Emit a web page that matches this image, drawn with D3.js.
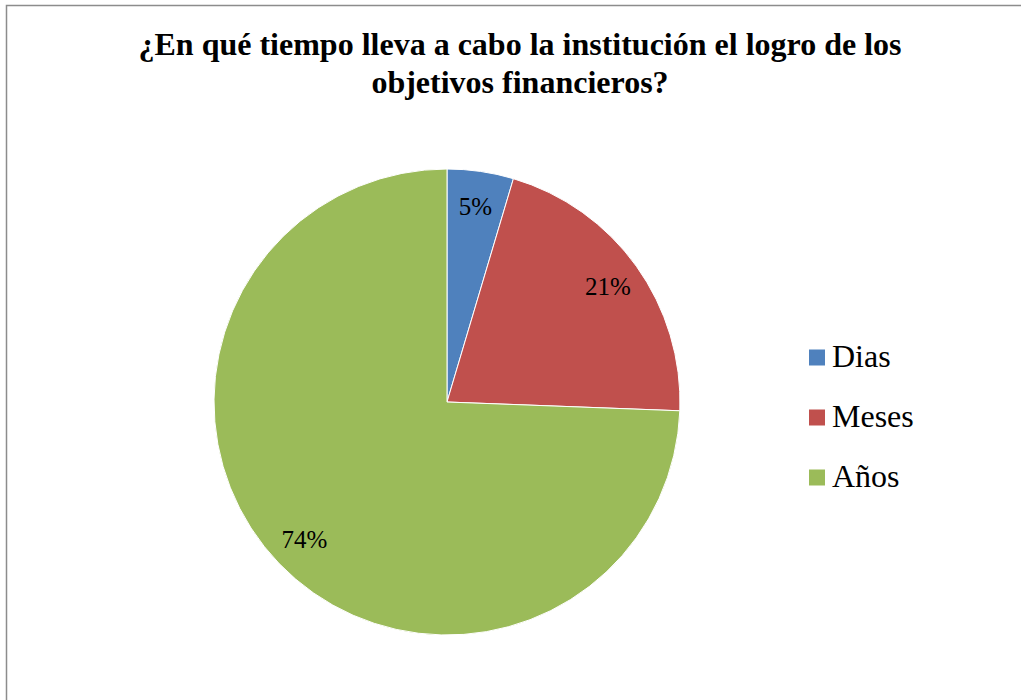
<!DOCTYPE html>
<html lang="es">
<head>
<meta charset="UTF-8">
<title>Pie</title>
<style>
    body { margin: 0; background: #fff; overflow: hidden; }
    svg { display: block; }
    svg text { font-family: 'Liberation Serif', 'Times New Roman', serif; }
</style>
</head>
<body>
<svg width="1021" height="700"></svg>
<script src="https://cdn.jsdelivr.net/npm/d3@7.8.5/dist/d3.min.js"></script>
<script>
    const categories = ['Dias', 'Meses', 'Años']
    const values = [4.6, 21.0, 74.4]
    const labels = ['5%', '21%', '74%']
    const colors = ['#4F81BD', '#C0504D', '#9BBB59']
    const titleLines = ['¿En qué tiempo lleva a cabo la institución el logro de los', 'objetivos financieros?']

    const svg = d3.select('svg')

    // outer frame (only left and top show inside the picture)
    svg.append('rect')
        .attr('x', 6.5).attr('y', 5.5)
        .attr('width', 1100).attr('height', 800)
        .attr('fill', 'none')
        .attr('stroke', '#8c8c8c')
        .attr('stroke-width', 1.5)

    svg.append('g').selectAll('text')
        .data(titleLines)
        .join('text')
        .attr('x', 520)
        .attr('y', (d, i) => 55 + i * 38)
        .attr('text-anchor', 'middle')
        .attr('font-weight', 'bold')
        .attr('font-size', 32)
        .text(d => d)

    const cx = 447, cy = 402, radius = 233
    const data = categories.map((c, i) => ({ name: c, value: values[i], label: labels[i], color: colors[i] }))

    const pie = d3.pie().sort(null).value(d => d.value)
    const arc = d3.arc().innerRadius(0).outerRadius(radius)
    const labelArc = d3.arc().innerRadius(radius * 0.85).outerRadius(radius * 0.85)

    const g = svg.append('g').attr('transform', `translate(${cx},${cy})`)
    const arcs = pie(data)

    g.selectAll('path')
        .data(arcs)
        .join('path')
        .attr('d', arc)
        .attr('fill', d => d.data.color)
        .attr('stroke', '#fff')
        .attr('stroke-width', 1)

    g.selectAll('text')
        .data(arcs)
        .join('text')
        .attr('transform', d => `translate(${labelArc.centroid(d)})`)
        .attr('text-anchor', 'middle')
        .attr('dy', '0.35em')
        .attr('font-size', 25)
        .attr('fill', '#000')
        .text(d => d.data.label)

    const legend = svg.append('g').attr('transform', 'translate(809, 0)')
    const item = legend.selectAll('g')
        .data(data)
        .join('g')
        .attr('transform', (d, i) => `translate(0, ${357.5 + i * 60})`)

    item.append('rect')
        .attr('x', 0).attr('y', -8)
        .attr('width', 16).attr('height', 16)
        .attr('fill', d => d.color)

    item.append('text')
        .attr('x', 23)
        .attr('y', 9)
        .attr('font-size', 32)
        .text(d => d.name)
</script>
</body>
</html>
